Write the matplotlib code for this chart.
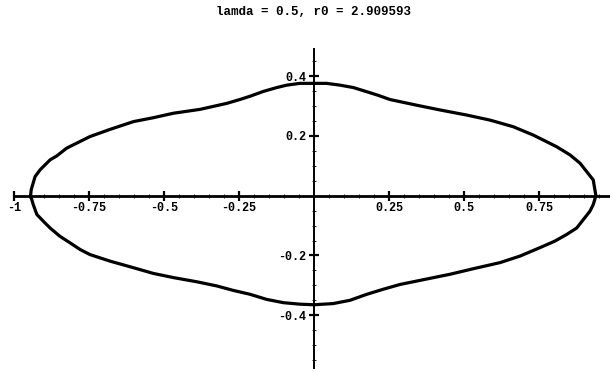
import numpy as np
import matplotlib.pyplot as plt

# curve (upper half left->right, lower half right->left)
upper_x = [-0.945, -0.943, -0.93, -0.913, -0.88, -0.858, -0.825, -0.791, -0.747,
           -0.68, -0.602, -0.536, -0.469, -0.38, -0.291, -0.247, -0.213, -0.169,
           -0.124, -0.091, -0.047, 0.0, 0.042, 0.087, 0.131, 0.176, 0.214, 0.253,
           0.342, 0.42, 0.509, 0.587, 0.664, 0.731, 0.809, 0.853, 0.887, 0.909,
           0.931, 0.94]
upper_y = [0.0, 0.02, 0.064, 0.087, 0.12, 0.133, 0.159, 0.176, 0.198,
           0.222, 0.248, 0.261, 0.276, 0.289, 0.309, 0.322, 0.333, 0.349,
           0.362, 0.37, 0.376, 0.376, 0.376, 0.37, 0.362, 0.348, 0.336, 0.322,
           0.303, 0.287, 0.27, 0.253, 0.231, 0.203, 0.164, 0.137, 0.109, 0.081,
           0.053, 0.0]
lower_x = [0.94, 0.931, 0.92, 0.898, 0.876, 0.842, 0.803, 0.753, 0.687, 0.62,
           0.537, 0.453, 0.37, 0.287, 0.231, 0.176, 0.12, 0.064, 0.0, -0.047,
           -0.102, -0.158, -0.213, -0.269, -0.324, -0.391, -0.469, -0.536,
           -0.602, -0.68, -0.747, -0.78, -0.813, -0.847, -0.88, -0.902, -0.924,
           -0.936, -0.945]
lower_y = [0.0, -0.03, -0.052, -0.08, -0.108, -0.13, -0.152, -0.174, -0.202,
           -0.224, -0.243, -0.263, -0.28, -0.297, -0.313, -0.33, -0.35, -0.361,
           -0.365, -0.363, -0.358, -0.347, -0.33, -0.317, -0.302, -0.288,
           -0.274, -0.26, -0.241, -0.219, -0.197, -0.18, -0.158, -0.136, -0.108,
           -0.086, -0.063, -0.03, 0.0]

xticks = [-1, -0.75, -0.5, -0.25, 0.25, 0.5, 0.75]
xlabels = ['-1', '-0.75', '-0.5', '-0.25', '0.25', '0.5', '0.75']
yticks = [-0.4, -0.2, 0.2, 0.4]
ylabels = ['-0.4', '-0.2', '0.2', '0.4']
title = 'lamda = 0.5, r0 = 2.909593'

mono = 'Liberation Mono'

fig = plt.figure(figsize=(6.1, 3.72), dpi=100)
ax = fig.add_axes([0, 0, 1, 1])
ax.set_xlim(-1.047, 0.987)
ax.set_ylim(-0.59, 0.655)

ax.plot(upper_x + lower_x, upper_y + lower_y, color='black', lw=2.3,
        solid_joinstyle='round', solid_capstyle='round')

for s in ['top', 'right']:
    ax.spines[s].set_visible(False)
ax.spines['left'].set_position(('data', 0))
ax.spines['bottom'].set_position(('data', 0))
ax.spines['bottom'].set_bounds(-1.0, 0.987)
ax.spines['left'].set_bounds(-0.575, 0.49)
ax.spines['left'].set_linewidth(1.4)
ax.spines['bottom'].set_linewidth(2.0)

ax.set_xticks(xticks)
ax.set_xticklabels(xlabels, family=mono, fontweight='bold', fontsize=8.5)
ax.set_yticks(yticks)
ax.set_yticklabels(ylabels, family=mono, fontweight='bold', fontsize=8.5)
ax.set_xticks(np.arange(-1, 1.0, 0.05), minor=True)
ax.set_yticks(np.arange(-0.55, 0.5, 0.05), minor=True)
ax.tick_params(which='major', direction='inout', length=7, width=1.6, pad=2)
ax.tick_params(which='minor', direction='inout', length=2.5, width=0.6)
ax.tick_params(axis='x', which='major', pad=1)

ax.text(0.0, 0.635, title, family=mono, fontweight='bold', fontsize=9,
        ha='center', va='top')

fig.savefig('out.png', dpi=100)
